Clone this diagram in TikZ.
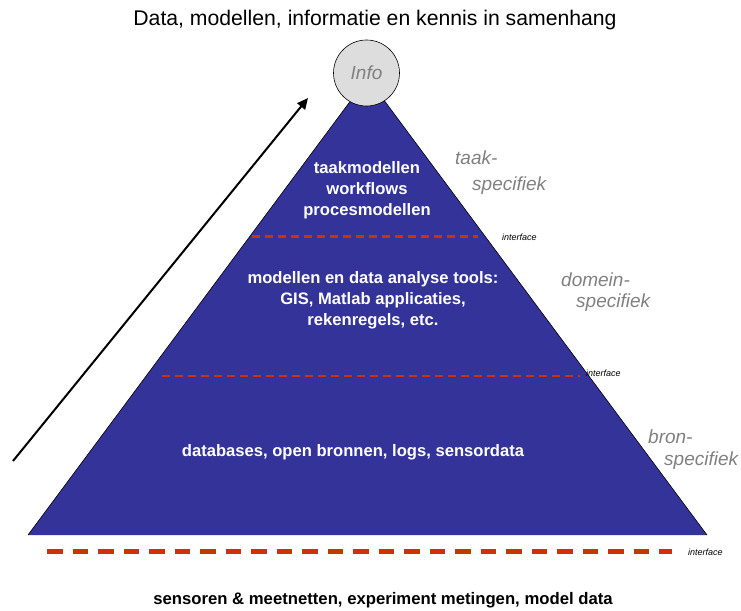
\documentclass[tikz,border=0pt]{standalone}
\usepackage{fontspec}
\setmainfont{Liberation Sans}
\usetikzlibrary{arrows.meta}
\definecolor{pyramid}{HTML}{333399}
\definecolor{iface}{HTML}{CC3300}
\definecolor{greytxt}{HTML}{808080}
\definecolor{infofill}{HTML}{DDDDDD}
\tikzset{
  layertext/.style={text=white, font=\bfseries\fontsize{16.6}{21}\selectfont, align=center, inner sep=0pt},
  scopetext/.style={text=greytxt, font=\itshape\fontsize{19}{22}\selectfont, inner sep=0pt},
  ifacetext/.style={font=\itshape\fontsize{9}{10}\selectfont, inner sep=0pt, anchor=west},
  ifaceline/.style={draw=iface, line width=2.5pt, dash pattern=on 8pt off 5pt},
}
\begin{document}
\begin{tikzpicture}[x=1pt, y=-1pt]
\useasboundingbox (0,0) rectangle (741,610);
% title
\node[font=\fontsize{21.2}{24}\selectfont, inner sep=0pt] (title) at (375,20) {Data, modellen, informatie en kennis in samenhang};
% pyramid body
\coordinate (apex) at (367.5,78);
\coordinate (bl) at (28,535);
\coordinate (br) at (707,535);
\fill[pyramid] (apex) -- (br) -- (bl) -- cycle;
\draw[black, line width=0.6pt] (bl) -- (apex) -- (br);
% interfaces between layers
\coordinate (i1a) at (252,236.5);
\coordinate (i1b) at (478,236.5);
\coordinate (i2a) at (162,376);
\coordinate (i2b) at (580,376);
\coordinate (i3a) at (47,551);
\coordinate (i3b) at (672,551);
\draw[ifaceline] (i1a) -- (i1b);
\draw[ifaceline] (i2a) -- (i2b);
\draw[draw=iface, line width=5pt, dash pattern=on 15.5pt off 10pt] (i3a) -- (i3b);
\node[ifacetext] (if1) at (502,237) {interface};
\node[ifacetext] (if2) at (586,373) {interface};
\node[ifacetext] (if3) at (688,552) {interface};
% top circle
\node[circle, draw=black, line width=0.6pt, fill=infofill, minimum size=66pt, inner sep=0pt,
      text=greytxt, font=\itshape\fontsize{19}{22}\selectfont] (info) at (366.5,73) {Info};
% layer contents
\node[layertext] (task) at (367,190) {taakmodellen\\workflows\\procesmodellen};
\node[layertext] (domain) at (373,300) {modellen en data analyse tools:\\GIS, Matlab applicaties,\\rekenregels, etc.};
\node[layertext] (source) at (353,452) {databases, open bronnen, logs, sensordata};
% scope labels
\node[scopetext, anchor=west] (t1) at (455,158) {taak-};
\node[scopetext, anchor=west] (t2) at (472,186) {specifiek};
\node[scopetext, anchor=west] (d1) at (561,280) {domein-};
\node[scopetext, anchor=west] (d2) at (576,303) {specifiek};
\node[scopetext, anchor=west] (b1) at (648,437) {bron-};
\node[scopetext, anchor=west] (b2) at (664,461) {specifiek};
% data sources
\node[font=\bfseries\fontsize{16.7}{19}\selectfont, inner sep=0pt] (sensors) at (383,600) {sensoren \& meetnetten, experiment metingen, model data};
% rising arrow
\coordinate (arrstart) at (13,461);
\coordinate (arrend) at (308,98);
\draw[line width=2pt, -{Triangle[length=11pt, width=10pt]}] (arrstart) -- (arrend);
\end{tikzpicture}
\end{document}
